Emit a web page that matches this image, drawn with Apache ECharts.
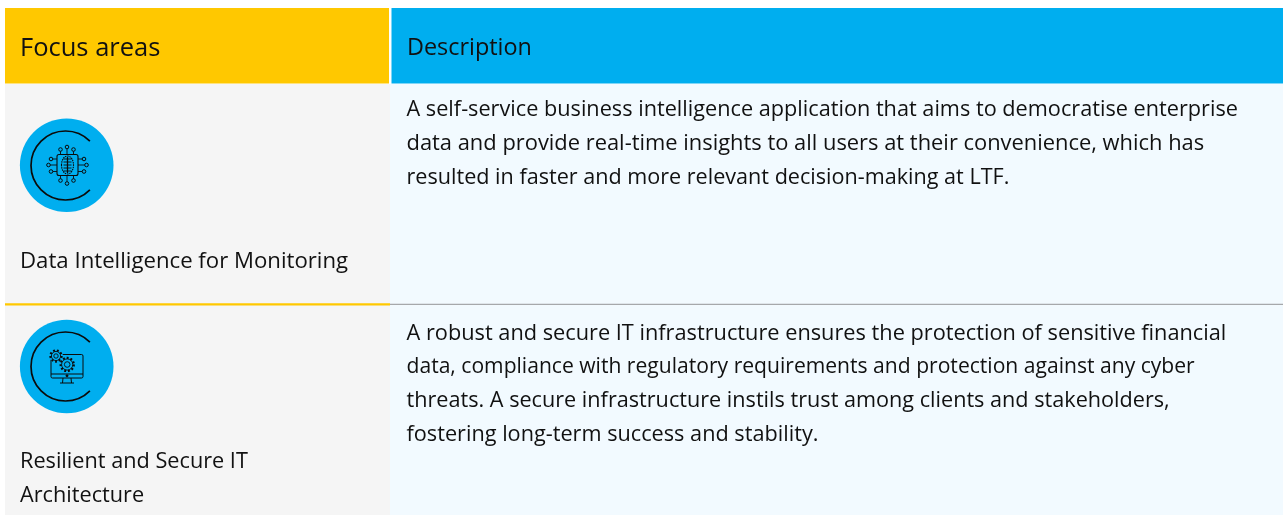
<!DOCTYPE html>
<html><head><meta charset="utf-8">
<style>html,body{margin:0;padding:0;background:#fff}#c{width:1283px;height:515px}</style>
<script src="https://cdn.jsdelivr.net/npm/echarts@6/dist/echarts.min.js"></script>
</head><body><div id="c"></div>
<script>
const headers = ['Focus areas', 'Description'];
const focusAreas = [['Data Intelligence for Monitoring'], ['Resilient and Secure IT', 'Architecture']];
const descriptions = [
 ['A self-service business intelligence application that aims to democratise enterprise',
  'data and provide real-time insights to all users at their convenience, which has',
  'resulted in faster and more relevant decision-making at LTF.'],
 ['A robust and secure IT infrastructure ensures the protection of sensitive financial',
  'data, compliance with regulatory requirements and protection against any cyber',
  'threats. A secure infrastructure instils trust among clients and stakeholders,',
  'fostering long-term success and stability.']
];
const FONT = '"Open Sans", "Noto Sans", sans-serif';
const g = [];
const rect = (x,y,w,h,fill)=>g.push({type:'rect',shape:{x,y,width:w,height:h},style:{fill},silent:true});
const text = (x,y,t,size)=>g.push({type:'text',x,y,style:{text:t,fontFamily:FONT,fontSize:size,fill:'#111',textVerticalAlign:'middle',textAlign:'left'},silent:true});
const K='#0b0b0b';
const circ=(cx,cy,r,o={})=>g.push({type:'circle',shape:{cx,cy,r},style:Object.assign({fill:'none',stroke:K,lineWidth:1},o),silent:true});
const ln=(a,b,c,d,w=1)=>g.push({type:'line',shape:{x1:a,y1:b,x2:c,y2:d},style:{stroke:K,lineWidth:w},silent:true});
const arc=(cx,cy,r)=>g.push({type:'arc',shape:{cx,cy,r,startAngle:Math.PI*0.25,endAngle:Math.PI*1.75,clockwise:true},style:{fill:'none',stroke:K,lineWidth:1.7},silent:true});

rect(5,8,384,75.5,'#ffc800');
rect(391.5,8,892,75.5,'#00aeef');
rect(5,84,385,431,'#f5f5f5');
rect(390,84,893,431,'#f2faff');
rect(390,303.7,893,1.4,'#a6a8ab');
rect(5,303.3,385,2.2,'#ffc800');

text(20,48.5,headers[0],25.5);
text(407,48.5,headers[1],23.4);

const fit=[[21.7,21.9,21.6],[21.75,21.1,21.65,21.7]];
descriptions[0].forEach((l,i)=>text(406.5,110+i*33.7,l,fit[0][i]));
descriptions[1].forEach((l,i)=>text(406.5,333.5+i*33.7,l,fit[1][i]));
focusAreas[0].forEach((l,i)=>text(20,262,l,22.2));
focusAreas[1].forEach((l,i)=>text(20,462+i*33.5,l,21.7));

// icon 1
circ(66.7,165.3,46.8,{fill:'#00aeef',stroke:'none'});
arc(65.5,165.5,34.5);
g.push({type:'rect',shape:{x:57,y:154.5,width:21,height:21,r:2},style:{fill:'none',stroke:K,lineWidth:1.1},silent:true});
g.push({type:'ellipse',shape:{cx:67.5,cy:165,rx:6,ry:9},style:{fill:'none',stroke:K,lineWidth:1.1,lineDash:[1.5,.8]},silent:true});
ln(67.5,157,67.5,173,1.3);
[-3,0,3,6,-6].forEach(d=>ln(63.5,165+d,71.5,165+d,.9));
[[60.5,149.5],[67,147],[73.5,149.5],[60.5,180.5],[67,183.5],[73.5,180.5]].forEach(p=>{circ(p[0],p[1],1.8);ln(p[0],p[1]<165?p[1]+1.8:p[1]-1.8,p[0],p[1]<165?154.5:175.5,.9);});
[[51,159],[48.5,165],[51,171.5],[84,159],[86.5,165],[84,171.5]].forEach(p=>{circ(p[0],p[1],1.8);ln(p[0]<67?p[0]+1.8:p[0]-1.8,p[1],p[0]<67?57:78,p[1],.9);});

// icon 2
circ(66.7,366.5,46.8,{fill:'#00aeef',stroke:'none'});
arc(65.5,366.5,34.5);
g.push({type:'rect',shape:{x:51,y:354.5,width:32,height:23.5,r:1.5},style:{fill:'none',stroke:K,lineWidth:1},silent:true});
ln(51,374,83,374,1);
ln(63,378,62.5,383,1);ln(71,378,71.5,383,1);ln(60,383,74,383,1);
circ(67,375.8,1,{fill:K});
[[56,356,4.8,2.2],[67.2,364.5,5.8,2.8]].forEach(([x,y,r,i])=>{
  circ(x,y,r+1.6,{fill:'#00aeef',stroke:'#00aeef'});
  circ(x,y,r+.8,{lineWidth:2.2,lineDash:[1.9,1.9]});
  circ(x,y,r-.2,{lineWidth:.9});
  circ(x,y,i,{lineWidth:.9});
});

const chart=echarts.init(document.getElementById('c'),null,{renderer:'canvas',width:1283,height:515});
chart.setOption({animation:false,graphic:{elements:g}});
</script></body></html>
